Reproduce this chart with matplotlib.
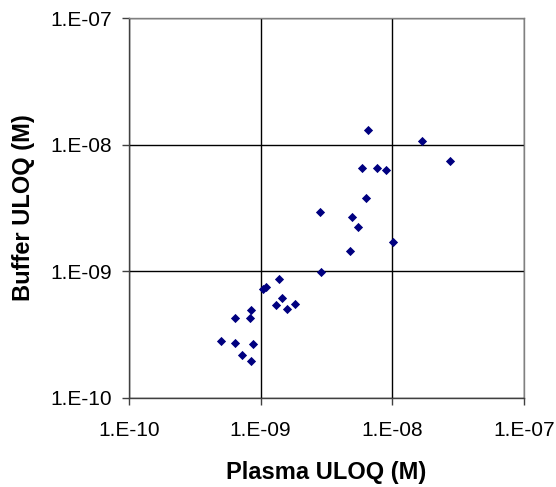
import matplotlib
matplotlib.use("Agg")
import matplotlib.pyplot as plt
from matplotlib.ticker import FixedLocator, FuncFormatter, NullLocator

plasma_uloq = [5.04e-10, 6.4e-10, 6.4e-10, 7.2e-10, 8.4e-10, 8.25e-10, 8.7e-10, 8.4e-10,
               1.04e-9, 1.10e-9, 1.38e-9, 1.30e-9, 1.45e-9, 1.58e-9, 1.82e-9,
               2.82e-9, 2.87e-9, 4.78e-9, 4.96e-9, 5.51e-9, 5.90e-9, 6.32e-9, 6.56e-9,
               7.71e-9, 9.0e-9, 1.01e-8, 1.69e-8, 2.77e-8]
buffer_uloq = [2.81e-10, 4.27e-10, 2.71e-10, 2.17e-10, 4.93e-10, 4.27e-10, 2.66e-10, 1.94e-10,
               7.26e-10, 7.48e-10, 8.7e-10, 5.4e-10, 6.13e-10, 5.08e-10, 5.5e-10,
               2.93e-9, 9.8e-10, 1.44e-9, 2.68e-9, 2.23e-9, 6.55e-9, 3.78e-9, 1.30e-8,
               6.55e-9, 6.28e-9, 1.69e-9, 1.07e-8, 7.39e-9]
tick_values = [1e-10, 1e-9, 1e-8, 1e-7]
tick_labels = ["1.E-10", "1.E-09", "1.E-08", "1.E-07"]

plt.rcParams['font.family'] = ['Liberation Sans', 'DejaVu Sans']

fig = plt.figure(figsize=(5.56, 4.87), dpi=100)
ax = fig.add_axes([0.232, 0.183, 0.710, 0.780])

ax.scatter(plasma_uloq, buffer_uloq, marker='D', s=22, color='#000080', zorder=3, linewidths=0)

ax.set_xscale('log')
ax.set_yscale('log')
ax.set_xlim(1e-10, 1e-7)
ax.set_ylim(1e-10, 1e-7)

fmt = FuncFormatter(lambda v, p: tick_labels[tick_values.index(min(tick_values, key=lambda t: abs(t - v) / t))])
for axis in (ax.xaxis, ax.yaxis):
    axis.set_major_locator(FixedLocator(tick_values))
    axis.set_major_formatter(fmt)
    axis.set_minor_locator(NullLocator())

ax.grid(True, which='major', color='black', linewidth=1.0)
ax.set_axisbelow(True)
for s in ('top', 'right'):
    ax.spines[s].set_color('#808080')
    ax.spines[s].set_linewidth(1.0)
for s in ('left', 'bottom'):
    ax.spines[s].set_color('#404040')
    ax.spines[s].set_linewidth(1.0)

ax.tick_params(axis='both', which='major', direction='out', length=5, width=1,
               color='#404040', labelsize=15)
ax.tick_params(axis='y', pad=7)
ax.tick_params(axis='x', pad=12)

ax.set_xlabel('Plasma ULOQ (M)', fontsize=17, fontweight='bold', labelpad=15)
ax.set_ylabel('Buffer ULOQ (M)', fontsize=17, fontweight='bold', labelpad=11)

fig.savefig('out.png', dpi=100, facecolor='white')
